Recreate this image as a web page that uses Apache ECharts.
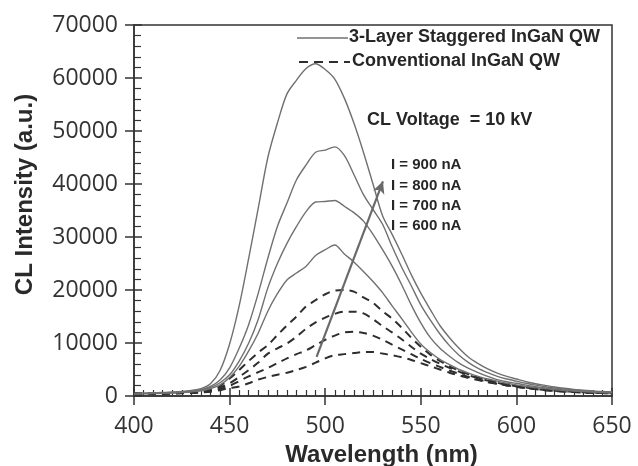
<!DOCTYPE html>
<html>
<head>
<meta charset="utf-8">
<script src="https://cdn.jsdelivr.net/npm/echarts@6/dist/echarts.min.js"></script>
<style>
  html, body { margin: 0; padding: 0; background: #fff; }
  #chart { width: 638px; height: 466px; }
</style>
</head>
<body>
<div id="chart"></div>
<script>
// Wavelength grid (nm), 5 nm steps from 400 to 650
const wavelengths = [];
for (let w = 400; w <= 650; w += 5) wavelengths.push(w);

// 3-layer staggered InGaN QW, CL intensity (a.u.)
const staggered900 = [500,550,600,650,750,850,1050,1400,2300,4800,9800,17000,26000,35500,45000,51500,57000,59600,61800,62700,61600,59800,56200,51500,46000,40000,34000,30500,26800,22900,19400,16300,13300,11000,9000,7300,6100,5100,4300,3700,3200,2700,2300,2000,1700,1450,1250,1100,950,850,750];
const staggered800 = [450,500,550,600,650,750,900,1200,1800,3000,5300,9000,13500,19400,26000,32000,36400,40800,43600,46000,46400,47000,45400,41800,38000,35200,32400,28200,24300,20800,17200,14300,11700,9500,7700,6300,5200,4400,3700,3200,2800,2400,2050,1750,1500,1300,1150,1000,880,780,700];
const staggered700 = [400,450,500,550,600,700,850,1100,1600,2500,4000,6600,10000,14500,20400,25000,28800,32000,34800,36600,36700,36900,35800,34600,33000,30500,27600,24500,21000,17200,13800,11000,9000,7500,6200,5200,4400,3700,3100,2700,2400,2050,1750,1500,1300,1150,1000,900,800,700,650];
const staggered600 = [350,400,450,500,550,650,800,1000,1400,2100,3500,5600,8500,11900,16000,19300,21900,23200,24500,26500,27600,28500,26800,25300,23500,21600,19500,17000,14600,12100,9800,8200,6900,5900,5000,4300,3700,3200,2800,2400,2100,1800,1600,1400,1200,1050,950,850,750,650,600];

// Conventional InGaN QW, CL intensity (a.u.)
const conventional900 = [500,500,550,550,600,650,750,900,1200,1900,3300,4900,6600,8200,9600,11500,13300,15000,16900,18100,19200,19900,20000,19700,18600,17600,16000,14600,12900,11000,9300,7800,6600,5600,4800,4100,3500,3000,2600,2200,1900,1650,1400,1200,1050,900,800,700,650,600,550];
const conventional800 = [450,450,500,500,550,600,700,800,1050,1600,2400,3600,4900,6300,8000,9000,9900,11200,12700,13900,14800,15500,15900,15900,15600,14500,13200,12000,10700,9300,8000,7000,6100,5300,4600,3900,3400,2900,2500,2100,1850,1600,1350,1150,1000,880,780,700,620,560,520];
const conventional700 = [400,400,450,450,500,550,600,700,900,1300,1900,2800,3700,4500,5300,6200,7100,7900,8600,9600,10600,11400,12000,12100,11900,11400,10600,9700,8800,7900,7000,6200,5500,4800,4200,3600,3100,2700,2300,2000,1750,1500,1300,1100,950,850,750,650,600,550,500];
const conventional600 = [350,350,400,400,450,500,550,650,800,1100,1500,1800,2400,3100,3600,4000,4400,4900,5500,6300,7100,7700,7900,8100,8300,8300,8000,7700,7300,6800,6200,5600,5000,4400,3900,3400,3000,2600,2300,2000,1750,1500,1300,1100,950,850,750,650,600,550,500];

// Axis ticks
const xTicks = [400, 450, 500, 550, 600, 650];
const yTicks = [0, 10000, 20000, 30000, 40000, 50000, 60000, 70000];

// Increasing-current arrow: [wavelength, intensity] of its two ends
const arrowFrom = [495.5, 7400];
const arrowTo = [530.2, 40500];

const currents = ['I = 900 nA', 'I = 800 nA', 'I = 700 nA', 'I = 600 nA'];

const pairs = vals => wavelengths.map((w, i) => [w, vals[i]]);

const SOLID = '#707070';
const DASH = '#2e2e2e';
const AXIS = '#333';
const boldFont = '"Liberation Sans", Arial, sans-serif';

function solidSeries(name, vals) {
  return {
    name, type: 'line', data: pairs(vals), showSymbol: false, smooth: 0.3,
    lineStyle: { color: SOLID, width: 1.4 }, z: 3, silent: true
  };
}
function dashedSeries(name, vals) {
  return {
    name, type: 'line', data: pairs(vals), showSymbol: false, smooth: 0.3,
    lineStyle: { color: DASH, width: 2, type: [8, 6] }, z: 2, silent: true
  };
}

const series = [
  solidSeries('3-Layer 900', staggered900),
  solidSeries('3-Layer 800', staggered800),
  solidSeries('3-Layer 700', staggered700),
  solidSeries('3-Layer 600', staggered600),
  dashedSeries('Conv 900', conventional900),
  dashedSeries('Conv 800', conventional800),
  dashedSeries('Conv 700', conventional700),
  dashedSeries('Conv 600', conventional600)
];
series[0].markLine = {
  silent: true,
  symbol: ['none', 'arrow'],
  symbolSize: [9, 12],
  label: { show: false },
  lineStyle: { color: '#6a6a6a', width: 2.2, type: 'solid' },
  data: [[{ coord: arrowFrom }, { coord: arrowTo }]]
};

const grid = {
  left: 134, right: 26, top: 25, bottom: 70,
  outerBoundsMode: 'none', containLabel: false,
  show: true, borderColor: AXIS, borderWidth: 1.5
};

const tickLabel = { fontFamily: '"Open Sans", sans-serif', fontSize: 23, color: '#333', formatter: v => String(v) };

const option = {
  animation: false,
  backgroundColor: '#fff',
  grid,
  xAxis: [
    {
      type: 'value', min: xTicks[0], max: xTicks[xTicks.length - 1], interval: 50,
      name: 'Wavelength (nm)', nameLocation: 'middle', nameGap: 47,
      nameTextStyle: { fontFamily: boldFont, fontWeight: 'bold', fontSize: 24, color: '#2a2a2a', padding: [0, 0, 0, 17] },
      axisLine: { lineStyle: { color: AXIS, width: 1.5 } },
      axisTick: { show: true, inside: false, length: 9, lineStyle: { color: AXIS, width: 1.5 } },
      minorTick: { show: false },
      axisLabel: Object.assign({ margin: 19 }, tickLabel),
      splitLine: { show: false }
    },
    {
      type: 'value', position: 'bottom', min: xTicks[0], max: xTicks[xTicks.length - 1], interval: 50,
      axisLine: { show: false },
      axisTick: { show: true, inside: true, length: 8, lineStyle: { color: AXIS, width: 1.5 } },
      minorTick: { show: true, splitNumber: 10, length: 6, lineStyle: { color: AXIS, width: 1.2 } },
      axisLabel: { show: false },
      splitLine: { show: false }
    }
  ],
  yAxis: [
    {
      type: 'value', min: yTicks[0], max: yTicks[yTicks.length - 1], interval: 10000,
      name: 'CL Intensity (a.u.)', nameLocation: 'middle', nameGap: 97,
      nameTextStyle: { fontFamily: boldFont, fontWeight: 'bold', fontSize: 24, color: '#2a2a2a', padding: [0, 0, 0, 32] },
      axisLine: { show: true, lineStyle: { color: AXIS, width: 1.5 } },
      axisTick: { show: true, inside: false, length: 9, lineStyle: { color: AXIS, width: 1.5 } },
      minorTick: { show: false },
      axisLabel: Object.assign({ margin: 16 }, tickLabel),
      splitLine: { show: false }
    },
    {
      type: 'value', position: 'left', min: yTicks[0], max: yTicks[yTicks.length - 1], interval: 10000,
      axisLine: { show: false },
      axisTick: { show: true, inside: true, length: 8, lineStyle: { color: AXIS, width: 1.5 } },
      minorTick: { show: true, splitNumber: 5, length: 7, lineStyle: { color: AXIS, width: 1.2 } },
      axisLabel: { show: false },
      splitLine: { show: false }
    }
  ],
  series,
  graphic: [
    // legend keys
    { type: 'line', shape: { x1: 297, y1: 38, x2: 348, y2: 38 }, style: { stroke: SOLID, lineWidth: 1.4 } },
    { type: 'text', left: 349, top: 28, style: { text: '3-Layer Staggered InGaN QW', font: 'bold 18px ' + boldFont, fill: '#262626' } },
    { type: 'line', shape: { x1: 299, y1: 62, x2: 350, y2: 62 }, style: { stroke: DASH, lineWidth: 2, lineDash: [9, 6] } },
    { type: 'text', left: 352, top: 52, style: { text: 'Conventional InGaN QW', font: 'bold 18px ' + boldFont, fill: '#262626' } },
    // annotations
    { type: 'text', left: 367, top: 111, style: { text: 'CL Voltage  = 10 kV', font: 'bold 18px ' + boldFont, fill: '#262626' } },
    { type: 'text', left: 391, top: 157, style: { text: currents[0], font: 'bold 15px ' + boldFont, fill: '#262626' } },
    { type: 'text', left: 391, top: 178, style: { text: currents[1], font: 'bold 15px ' + boldFont, fill: '#262626' } },
    { type: 'text', left: 391, top: 198, style: { text: currents[2], font: 'bold 15px ' + boldFont, fill: '#262626' } },
    { type: 'text', left: 391, top: 218, style: { text: currents[3], font: 'bold 15px ' + boldFont, fill: '#262626' } }
  ]
};

const chart = echarts.init(document.getElementById('chart'), null, { renderer: 'canvas' });
chart.setOption(option);
</script>
</body>
</html>
